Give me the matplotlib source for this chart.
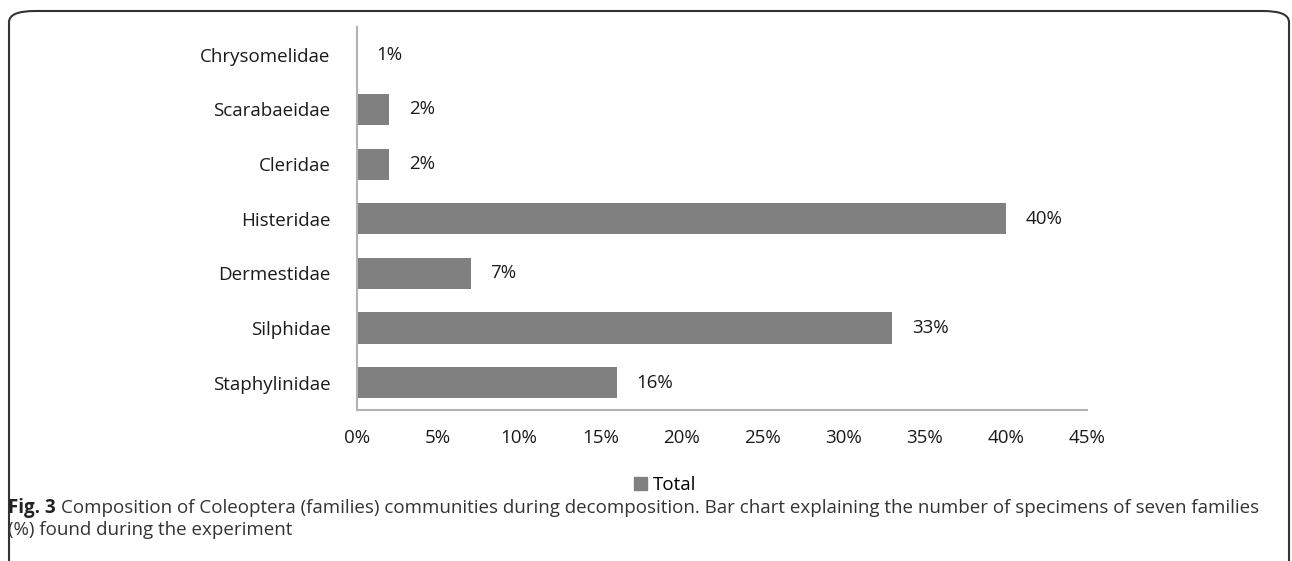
import numpy as np
import matplotlib
matplotlib.use('Agg')
from matplotlib import pyplot as plt
from matplotlib.patches import FancyBboxPatch, Patch
from matplotlib.ticker import FuncFormatter

families = ['Staphylinidae', 'Silphidae', 'Dermestidae', 'Histeridae',
            'Cleridae', 'Scarabaeidae', 'Chrysomelidae']
percent = [16, 33, 7, 40, 2, 2, 0]
value_labels = ['16%', '33%', '7%', '40%', '2%', '2%', '1%']
xticks = [0, 5, 10, 15, 20, 25, 30, 35, 40, 45]
caption1 = ('Composition of Coleoptera (families) communities during decomposition. '
            'Bar chart explaining the number of specimens of seven families')
caption2 = '(%) found during the experiment'

plt.rcParams['font.family'] = ['Open Sans', 'DejaVu Sans']
fs = 13.5
txt = '#1a1a1a'

fig = plt.figure(figsize=(12.92, 5.61), dpi=100)
ax = fig.add_axes([0.2763, 0.2692, 0.8413 - 0.2763, 0.951 - 0.2692])

y = np.arange(len(families))
bars = ax.barh(y, percent, height=0.57, color='#808080')
for b, lab in zip(bars, value_labels):
    ax.annotate(lab, (b.get_width(), b.get_y() + b.get_height() / 2),
                xytext=(14, 0), textcoords='offset points',
                ha='left', va='center', fontsize=fs, color=txt)

ax.set_xlim(0, 45)
ax.set_ylim(-0.5, len(families) - 0.5)
ax.set_xticks(xticks)
ax.xaxis.set_major_formatter(FuncFormatter(lambda v, p: '%d%%' % v))
ax.set_yticks(y)
ax.set_yticklabels(families)
ax.tick_params(axis='both', length=0, labelsize=fs, colors=txt)
ax.tick_params(axis='x', pad=14)
ax.tick_params(axis='y', pad=19)
for s in ['top', 'right']:
    ax.spines[s].set_visible(False)
for s in ['left', 'bottom']:
    ax.spines[s].set_color('#b3b3b3')
    ax.spines[s].set_linewidth(1.5)

fig.legend(handles=[Patch(color='#808080', label='Total')],
           loc='center', bbox_to_anchor=(0.515, 0.1355), frameon=False,
           fontsize=fs, handlelength=0.7, handleheight=0.7, handletextpad=0.3)

# rounded frame around figure
frame = FancyBboxPatch((9 / 1292, -0.02), 1280 / 1292, 1 - 11 / 561 + 0.02,
                       boxstyle='round,pad=0,rounding_size=0.02',
                       transform=fig.transFigure, fill=False,
                       edgecolor='#333333', linewidth=1.5)
fig.patches.append(frame)

# caption
cfs = 13.5
t1 = fig.text(8 / 1292, 1 - 508 / 561, 'Fig. 3', fontsize=cfs, fontweight='bold',
              color='#222222', va='center', ha='left')
fig.canvas.draw()
bb = t1.get_window_extent()
fig.text((bb.x1 + 5) / 1292, 1 - 508 / 561, caption1, fontsize=cfs,
         va='center', ha='left', color='#333333')
fig.text(8 / 1292, 1 - 530 / 561, caption2,
         fontsize=cfs, va='center', ha='left', color='#333333')

fig.savefig('out.png', dpi=100)
